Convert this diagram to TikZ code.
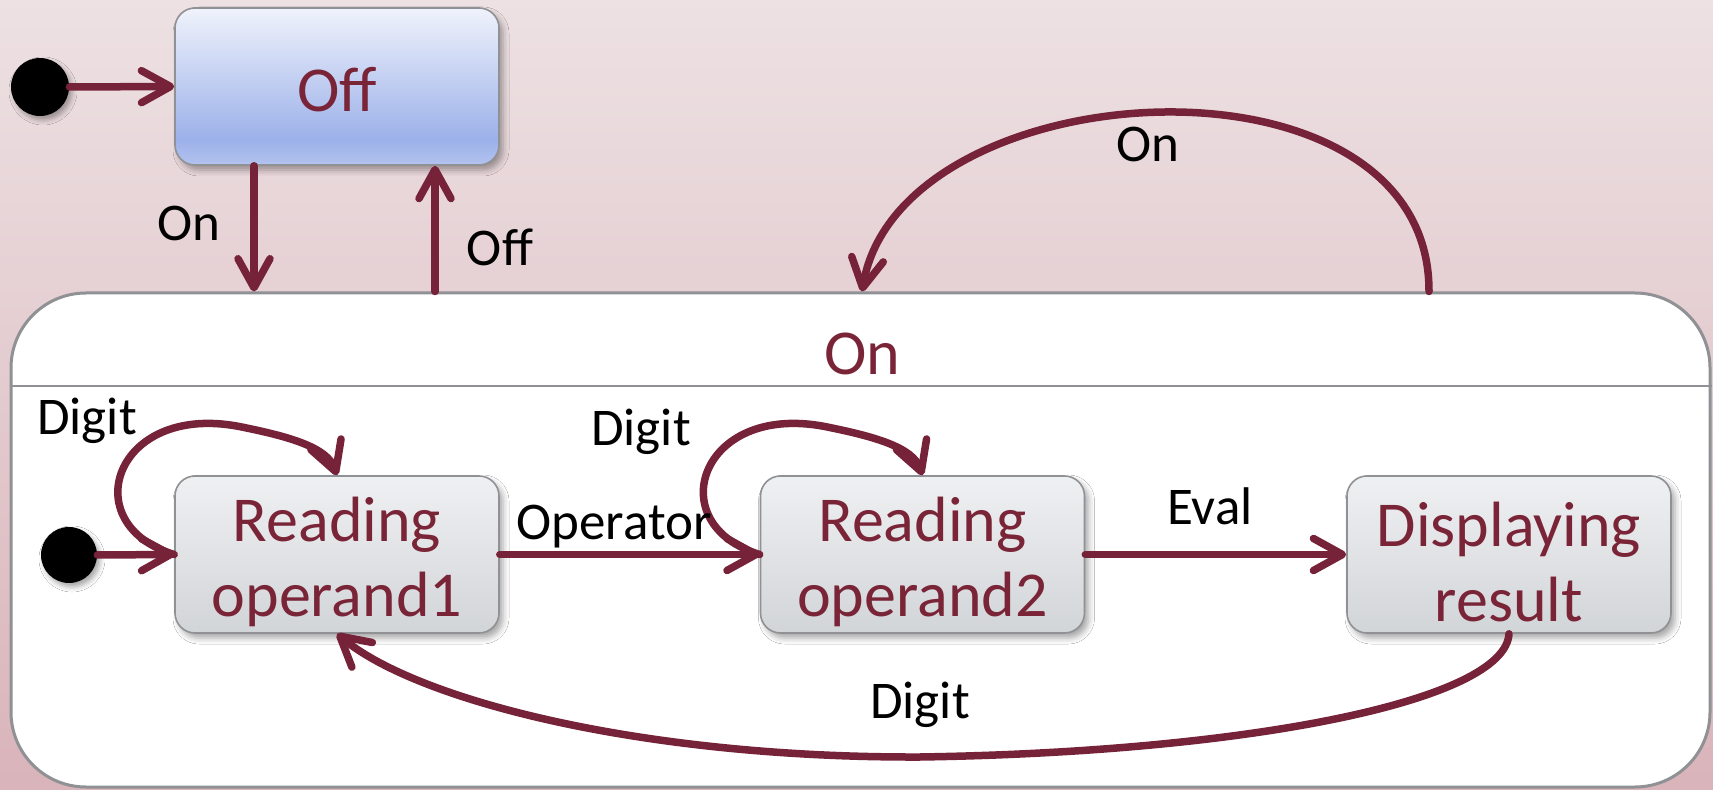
\documentclass[tikz,border=0pt]{standalone}
\usepackage{fontspec}
\setmainfont{Carlito}
\usetikzlibrary{arrows.meta,calc,shadows.blur}
\definecolor{maroon}{HTML}{76233A}
\definecolor{txtc}{HTML}{7A2438}
\definecolor{bgtop}{HTML}{EDE1E3}
\definecolor{bgbot}{HTML}{D9B4BA}
\definecolor{stt}{HTML}{EFF0F2}
\definecolor{stb}{HTML}{D2D5D8}
\definecolor{bord}{HTML}{8F9194}
\definecolor{offt}{HTML}{F0F3FC}
\definecolor{offd}{HTML}{9CB1E9}
\definecolor{offb}{HTML}{B3C3EF}
\pgfdeclareverticalshading{offshade}{100bp}{color(0bp)=(offb); color(25bp)=(offb); color(33bp)=(offd); color(75bp)=(offt); color(100bp)=(offt)}
\begin{document}
\begin{tikzpicture}[x=0.5pt,y=-0.5pt,
  statebox/.style={rectangle, rounded corners=10pt, draw=bord, line width=0.8pt,
    top color=stt, bottom color=stb, minimum width=162pt, minimum height=78.5pt,
    inner sep=0pt,
    blur shadow={shadow xshift=2pt, shadow yshift=-2.5pt, shadow blur radius=3pt, shadow opacity=35}},
  offbox/.style={statebox, shading=offshade},
  stxt/.style={text=txtc, font=\fontsize{32}{37.5}\selectfont, align=center, inner sep=0pt},
  initdot/.style={circle, fill=black, minimum size=29pt, inner sep=0pt,
    blur shadow={shadow xshift=1.5pt, shadow yshift=-2pt, shadow blur radius=2.5pt, shadow opacity=35}},
  arr/.style={draw=maroon, line width=3.75pt, line cap=round,
    -{Straight Barb[length=14.5pt,width=16pt,round]}},
  lbl/.style={font=\fontsize{26.5}{30}\selectfont, text=black, anchor=base, inner sep=0pt},
  ttl/.style={font=\fontsize{32}{37.5}\selectfont, text=txtc, anchor=base, inner sep=0pt}]

% background
\fill[top color=bgtop, bottom color=bgbot] (0,0) rectangle (1713,790);
\useasboundingbox (0,0) rectangle (1713,790);

% composite state
\node[draw=bord, line width=1.5pt, fill=white, rounded corners=37.5pt,
      minimum width=849.5pt, minimum height=247pt, inner sep=0pt] (onstate) at (860.5,540) {};
\coordinate (sepy) at (0,386);
\draw[bord, line width=0.9pt] (sepy -| onstate.west) -- (sepy -| onstate.east);
\node[ttl] (ontitle) at (862,375) {On};

% states
\node[offbox] (off) at (337,86.5) {};
\node[statebox] (op1) at (337,554.5) {};
\node[statebox] (op2) at (922.5,554.5) {};
\node[statebox] (dr) at (1509,554.5) {};
\node[stxt] (offt) at ([yshift=-1.5pt]off.center) {Off};
\node[stxt] (op1t) at ([yshift=-3.75pt]op1.center) {Reading\\operand1};
\node[stxt] (op2t) at ([yshift=-3.75pt]op2.center) {Reading\\operand2};
\node[stxt] (drt) at ([yshift=-3.75pt]dr.center) {Displaying\\result};

% initial pseudostates
\node[initdot] (init0) at (40,87) {};
\node[initdot, minimum size=28pt] (init1) at (69,555) {};

% helper coordinates
\coordinate (xa) at (254,0);
\coordinate (xb) at (435,0);
\coordinate (xc) at (1429,0);
\coordinate (xd) at (862,0);
\coordinate (dlow) at (920,757);

% transitions
\draw[arr] (init0.east) -- (off.west);
\draw[arr] (off.south -| xa) -- (onstate.north -| xa);
\draw[arr] (onstate.north -| xb) -- (off.south -| xb);
\draw[arr] (onstate.north -| xc) .. controls +(1,-253) and +(38,-223) .. (onstate.north -| xd);
\draw[arr] (init1.east) -- (op1.west);
\draw[arr] (op1.west) .. controls +(-100,-30) and +(-125,-24) .. ($(op1.west)+(65,-128)$)
           .. controls +(50,10) and +(-10,-28) .. (op1.north);
\draw[arr] (op1.east) -- (op2.west);
\draw[arr] (op2.west) .. controls +(-100,-30) and +(-125,-24) .. ($(op2.west)+(65,-128)$)
           .. controls +(50,10) and +(-10,-28) .. (op2.north);
\draw[arr] (op2.east) -- (dr.west);
\draw[arr] (dr.south) .. controls +(-4,67) and +(330,-5) .. (dlow)
           .. controls +(-280,1) and +(79,66) .. (op1.south);

% labels
\node[lbl] (l1) at (189,241) {On};
\node[lbl] (l2) at (500,266) {Off};
\node[lbl] (l3) at (87,435) {Digit};
\node[lbl] (l4) at (641,446) {Digit};
\node[lbl] (l5) at (614,540) {Operator};
\node[lbl] (l6) at (1210,525) {Eval};
\node[lbl] (l7) at (920,718) {Digit};
\node[lbl] (l8) at (1148,162) {On};
\end{tikzpicture}
\end{document}
